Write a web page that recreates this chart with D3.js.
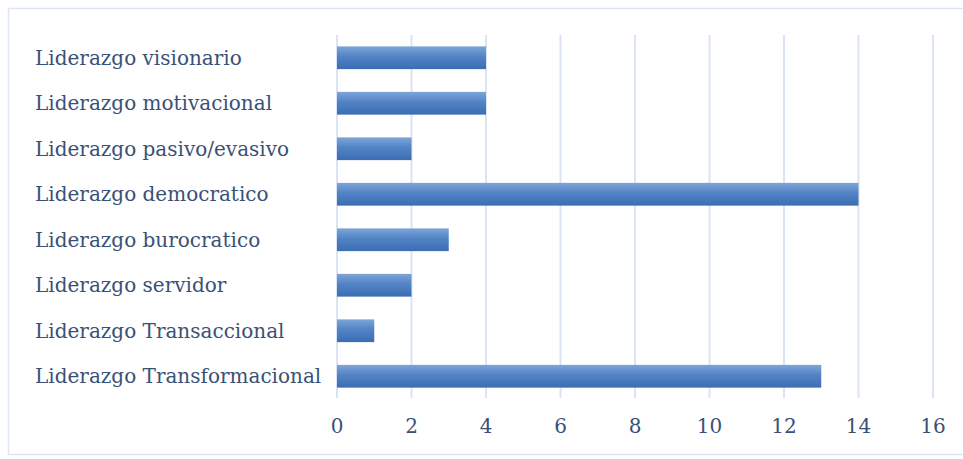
<!DOCTYPE html>
<html><head><meta charset="utf-8">
<script src="https://cdn.jsdelivr.net/npm/d3@7"></script>
<style>html,body{margin:0;padding:0;background:#fff;}</style>
</head><body>
<svg id="c" width="963" height="459"></svg>
<script>
const categories = ["Liderazgo visionario","Liderazgo motivacional","Liderazgo pasivo/evasivo","Liderazgo democratico","Liderazgo burocratico","Liderazgo servidor","Liderazgo Transaccional","Liderazgo Transformacional"];
const values = [4,4,2,14,3,2,1,13];
const xTicks = [0,2,4,6,8,10,12,14,16];

const svg = d3.select("#c");
const font = "'DejaVu Serif', serif";
const textColor = "#3a5177";

svg.append("rect").attr("x",8.5).attr("y",8.5).attr("width",963).attr("height",446)
  .attr("fill","#fff").attr("stroke","#dde6f5").attr("stroke-width",1.5);

const defs = svg.append("defs");
const g = defs.append("linearGradient").attr("id","bg").attr("x1",0).attr("y1",0).attr("x2",0).attr("y2",1);
g.append("stop").attr("offset","0%").attr("stop-color","#7ea5d8");
g.append("stop").attr("offset","45%").attr("stop-color","#5283c6");
g.append("stop").attr("offset","100%").attr("stop-color","#3b6db3");

const x = d3.scaleLinear().domain([0,16]).range([337,933]);
const y = d3.scaleBand().domain(categories).range([35,399]).paddingInner(0.5).paddingOuter(0.25);

svg.append("g").selectAll("line").data(xTicks).join("line")
  .attr("x1",d=>x(d)).attr("x2",d=>x(d)).attr("y1",35).attr("y2",398)
  .attr("stroke","#dbe4f4").attr("stroke-width",2);

svg.append("g").selectAll("rect").data(categories).join("rect")
  .attr("x",x(0)).attr("y",d=>y(d)).attr("width",(d,i)=>x(values[i])-x(0))
  .attr("height",y.bandwidth()).attr("fill","url(#bg)");

svg.append("g").selectAll("text").data(categories).join("text")
  .attr("x",35).attr("y",d=>y(d)+y.bandwidth()/2).attr("dy","0.35em")
  .attr("font-family",font).attr("font-size",20).attr("fill",textColor).text(d=>d);

svg.append("g").selectAll("text").data(xTicks).join("text")
  .attr("x",d=>x(d)).attr("y",426).attr("dy","0.35em").attr("text-anchor","middle")
  .attr("font-family",font).attr("font-size",20).attr("fill",textColor).text(d=>d);
</script>
</body></html>
